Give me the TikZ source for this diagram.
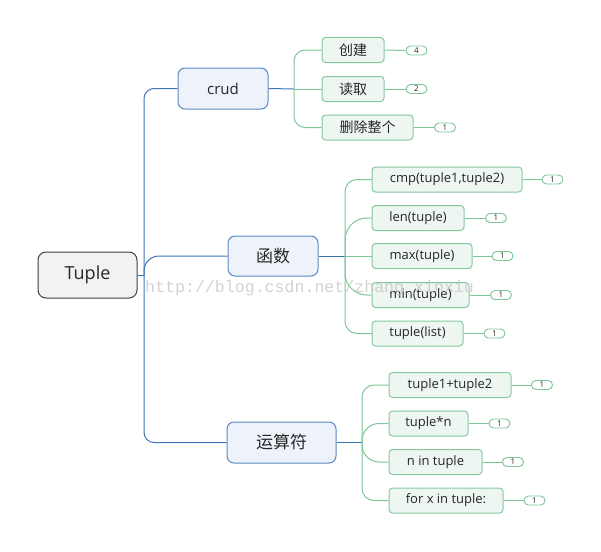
\documentclass[tikz,border=0pt]{standalone}
\usepackage{fontspec}
\setmainfont{Open Sans}
\newfontfamily\cjk{Noto Sans CJK SC}
\newfontfamily\wmfont{Liberation Mono}
\definecolor{bluefill}{HTML}{EEF3FB}
\definecolor{blueline}{HTML}{3D74B8}
\definecolor{bluebord}{HTML}{5B8AC6}
\definecolor{greenfill}{HTML}{EEF6F1}
\definecolor{greenline}{HTML}{7CC698}
\definecolor{greenbord}{HTML}{86C99F}
\definecolor{rootfill}{HTML}{F2F2F2}
\definecolor{rootbord}{HTML}{404040}
\definecolor{txt}{HTML}{262626}
\tikzset{
  rootbox/.style={draw=rootbord, fill=rootfill, line width=1pt, rounded corners=8pt,
    minimum width=99pt, minimum height=46pt, inner sep=0pt, font=\fontsize{18}{18}\selectfont, text=txt},
  mainbox/.style={draw=bluebord, fill=bluefill, line width=1pt, rounded corners=7pt,
    minimum height=41pt, inner sep=0pt, font=\fontsize{15}{15}\selectfont, text=txt},
  leafbox/.style={draw=greenbord, fill=greenfill, line width=1pt, rounded corners=3.5pt,
    minimum height=25pt, inner sep=0pt, font=\fontsize{13}{13}\selectfont, text=txt},
  badge/.style={draw=greenline, fill=white, line width=0.9pt, rounded corners=4.5pt,
    minimum width=21pt, minimum height=9pt, inner sep=0pt, font=\fontsize{8}{8}\selectfont, text=txt},
  bline/.style={draw=blueline, line width=1pt},
  gline/.style={draw=greenline, line width=1pt},
  cjkmain/.style={font=\cjk\fontsize{17}{17}\selectfont},
  cjkleaf/.style={font=\cjk\fontsize{14}{14}\selectfont},
}
\begin{document}
\begin{tikzpicture}[x=1pt,y=-1pt]
\useasboundingbox (0,0) rectangle (601,551);
% root and main topics
\node[rootbox] (tuple) at (87.5,275) {Tuple};
\node[mainbox, minimum width=90pt] (crud) at (223,88.5) {crud};
\node[mainbox, cjkmain, minimum width=90pt, minimum height=40pt] (func) at (273,256) {函数};
\node[mainbox, cjkmain, minimum width=109pt] (ops) at (281.5,442.5) {运算符};
% crud children
\node[leafbox, cjkleaf, minimum width=62pt] (c1) at (353,50) {创建};
\node[leafbox, cjkleaf, minimum width=62pt] (c2) at (353,89) {读取};
\node[leafbox, cjkleaf, minimum width=91pt] (c3) at (367.5,127.5) {删除整个};
\node[badge] (bc1) at (416.5,50.5) {4};
\node[badge] (bc2) at (416.5,89) {2};
\node[badge] (bc3) at (445,127.5) {1};
% function children
\node[leafbox, minimum width=150pt] (f1) at (447,179.5) {cmp(tuple1,tuple2)};
\node[leafbox, minimum width=92pt] (f2) at (418,218) {len(tuple)};
\node[leafbox, minimum width=100pt] (f3) at (422,256) {max(tuple)};
\node[leafbox, minimum width=97pt] (f4) at (420.5,295) {min(tuple)};
\node[leafbox, minimum width=91pt] (f5) at (417.5,333.5) {tuple(list)};
\node[badge] (bf1) at (552.5,179.5) {1};
\node[badge] (bf2) at (496,218) {1};
\node[badge] (bf3) at (502.5,256) {1};
\node[badge] (bf4) at (501,295) {1};
\node[badge] (bf5) at (494.5,333.5) {1};
% operator children
\node[leafbox, minimum width=122pt] (o1) at (450,385) {tuple1+tuple2};
\node[leafbox, minimum width=79pt] (o2) at (428.5,423.5) {tuple*n};
\node[leafbox, minimum width=93pt] (o3) at (435.5,462) {n in tuple};
\node[leafbox, minimum width=114pt] (o4) at (446,500.5) {for x in tuple:};
\node[badge] (bo1) at (542,385) {1};
\node[badge] (bo2) at (499.5,423.5) {1};
\node[badge] (bo3) at (513,462) {1};
\node[badge] (bo4) at (534.5,500.5) {1};
% blue connectors
\draw[bline] (tuple.east) -- (144,275) coordinate (tj);
\draw[bline, rounded corners=10pt] (tj) |- (crud.west);
\draw[bline, rounded corners=15pt] (tj) |- (func.west);
\draw[bline, rounded corners=10pt] (tj) |- (ops.west);
\draw[bline] (crud.east) -- (294,89) coordinate (cj);
\draw[bline] (func.east) -- (345,256) coordinate (fj);
\draw[bline] (ops.east) -- (362,442.5) coordinate (oj);
% green connectors
\draw[gline, rounded corners=11pt] (cj) |- (c1.west);
\draw[gline] (cj) -- (c2.west);
\draw[gline, rounded corners=11pt] (cj) |- (c3.west);
\draw[gline, rounded corners=12pt] (fj) |- (f1.west);
\draw[gline, rounded corners=22pt] (fj) |- (f2.west);
\draw[gline] (fj) -- (f3.west);
\draw[gline, rounded corners=22pt] (fj) |- (f4.west);
\draw[gline, rounded corners=12pt] (fj) |- (f5.west);
\draw[gline, rounded corners=12pt] (oj) |- (o1.west);
\draw[gline, rounded corners=17pt] (oj) |- (o2.west);
\draw[gline, rounded corners=17pt] (oj) |- (o3.west);
\draw[gline, rounded corners=12pt] (oj) |- (o4.west);
% badge connectors
\foreach \a/\b in {c1/bc1,c2/bc2,c3/bc3,f1/bf1,f2/bf2,f3/bf3,f4/bf4,f5/bf5,o1/bo1,o2/bo2,o3/bo3,o4/bo4}
  \draw[gline] (\a.east) -- (\b.west);
% watermark
\node[anchor=base west, inner sep=0pt, text=black!22, opacity=0.8, font=\wmfont\fontsize{16.6}{16.6}\selectfont] (wm) at (145,292) {http://blog.csdn.net/zhang\_xinxiu};
\end{tikzpicture}
\end{document}
